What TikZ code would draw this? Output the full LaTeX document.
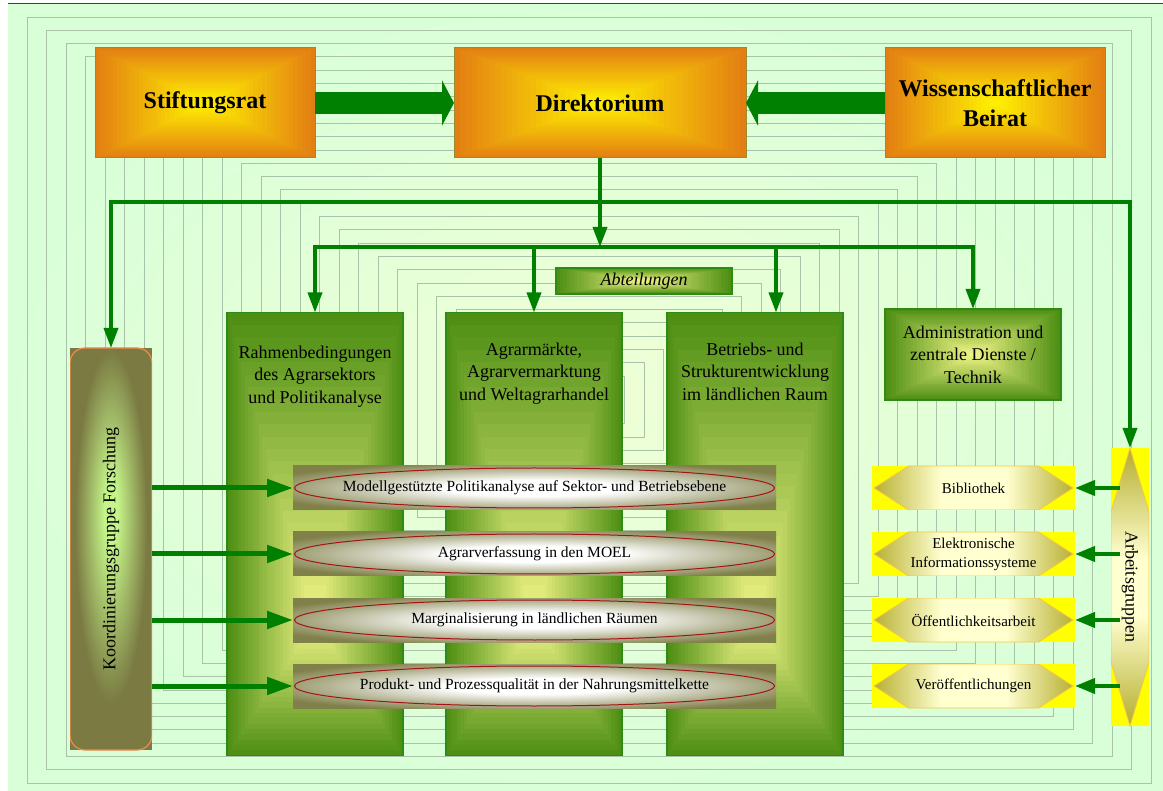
\documentclass[tikz,border=0pt]{standalone}
\usepackage{fontspec}
\setmainfont{Liberation Serif}
\usetikzlibrary{positioning,arrows.meta,calc}

\definecolor{arrowgreen}{HTML}{008000}
\definecolor{bgouter}{HTML}{D9FFD9}
\definecolor{bginner}{HTML}{F0FFD6}
\definecolor{bgline}{HTML}{A9C3A9}
\definecolor{boardouter}{HTML}{E37F12}
\definecolor{boardinner}{HTML}{FFF500}
\definecolor{boardedge}{HTML}{9A8A30}
\definecolor{colouter}{HTML}{4F8F14}
\definecolor{colinner}{HTML}{F5F78A}
\definecolor{coledge}{HTML}{2D8A14}
\definecolor{barolive}{HTML}{80804A}
\definecolor{barwhite}{HTML}{FFFFFF}
\definecolor{barred}{HTML}{A31515}
\definecolor{koordolive}{HTML}{7A7A42}
\definecolor{koordlight}{HTML}{C5F58A}
\definecolor{koordedge}{HTML}{F28A4A}
\definecolor{servyellow}{HTML}{FFFF00}
\definecolor{hexolive}{HTML}{B5AE2E}
\definecolor{hexlight}{HTML}{FFFFD0}
\definecolor{hexedge}{HTML}{F5C842}

\pgfdeclareradialshading{barshade}{\pgfpoint{0bp}{0bp}}{color(0bp)=(barwhite); color(9bp)=(barwhite); color(30bp)=(barolive); color(50bp)=(barolive)}
\pgfdeclareradialshading{koordshade}{\pgfpoint{0bp}{5bp}}{color(0bp)=(koordlight); color(4bp)=(koordlight); color(22bp)=(koordolive); color(50bp)=(koordolive)}
\pgfdeclarehorizontalshading{hexshade}{100bp}{color(0bp)=(hexolive); color(25bp)=(hexolive); color(42bp)=(hexlight); color(58bp)=(hexlight); color(75bp)=(hexolive); color(100bp)=(hexolive)}
\pgfdeclareverticalshading{diamondshade}{100bp}{color(0bp)=(hexolive); color(25bp)=(hexolive); color(45bp)=(hexlight); color(55bp)=(hexlight); color(75bp)=(hexolive); color(100bp)=(hexolive)}

\begin{document}
\begin{tikzpicture}[
    x=1pt, y=-1pt,
    pyramid/.style n args={3}{path picture={
        \coordinate (pSW) at (path picture bounding box.south west);
        \coordinate (pNE) at (path picture bounding box.north east);
        \coordinate (pC) at ($(path picture bounding box.south)!#3!(path picture bounding box.north)$);
        \foreach \k [evaluate=\k as \p using int(\k*4), evaluate=\k as \f using \k/25] in {0,...,24}
            \fill[#2!\p!#1] ($(pSW)!\f!(pC)$) rectangle ($(pNE)!\f!(pC)$);
    }},
    board/.style={draw=boardedge, line width=1pt, inner sep=0pt, outer sep=0pt, minimum width=220pt, minimum height=110pt, align=center,
        pyramid={boardouter}{boardinner}{.5}, font=\fontsize{24}{30}\selectfont\bfseries},
    column/.style={draw=coledge, line width=1.5pt, inner sep=0pt, outer sep=0pt, minimum width=176pt, minimum height=443pt,
        pyramid={colouter}{colinner}{.3}},
    coltext/.style={align=center, inner sep=0pt, font=\fontsize{18}{22.5}\selectfont},
    greenbox/.style={draw=coledge, line width=1.5pt, inner sep=0pt, outer sep=0pt, align=center,
        pyramid={colouter}{colinner}{.5}, font=\fontsize{18}{22.5}\selectfont},
    bar/.style={shade, shading=barshade, inner sep=0pt, outer sep=0pt, minimum width=483pt, minimum height=44pt,
        font=\fontsize{15.5}{18}\selectfont,
        path picture={\draw[barred, line width=1pt] (path picture bounding box.center) ellipse [x radius=240pt, y radius=20pt];}},
    service/.style={fill=servyellow, inner sep=0pt, outer sep=0pt, minimum width=203pt, minimum height=44pt, align=center,
        font=\fontsize{15}{19}\selectfont,
        path picture={\shade[shading=hexshade, draw=hexedge, line width=.8pt]
            ([xshift=2pt]path picture bounding box.west)
            -- ($(path picture bounding box.north west)!.18!(path picture bounding box.north east)$)
            -- ($(path picture bounding box.north west)!.82!(path picture bounding box.north east)$)
            -- ([xshift=-2pt]path picture bounding box.east)
            -- ($(path picture bounding box.south west)!.82!(path picture bounding box.south east)$)
            -- ($(path picture bounding box.south west)!.18!(path picture bounding box.south east)$) -- cycle;}},
    workgroup/.style={fill=servyellow, inner sep=0pt, outer sep=0pt, minimum width=38pt, minimum height=278pt,
        font=\fontsize{18}{22}\selectfont,
        path picture={\shade[shading=diamondshade, draw=hexedge, line width=.8pt]
            (path picture bounding box.north)
            -- ($(path picture bounding box.north east)!.23!(path picture bounding box.south east)$)
            -- ($(path picture bounding box.north east)!.77!(path picture bounding box.south east)$)
            -- (path picture bounding box.south)
            -- ($(path picture bounding box.north west)!.77!(path picture bounding box.south west)$)
            -- ($(path picture bounding box.north west)!.23!(path picture bounding box.south west)$) -- cycle;}},
    research/.style={fill=koordolive, inner sep=0pt, outer sep=0pt, minimum width=82pt, minimum height=402pt,
        font=\fontsize{18}{22}\selectfont,
        path picture={\shade[shading=koordshade, draw=koordedge, line width=1.2pt, rounded corners=15pt]
            (path picture bounding box.south west) rectangle (path picture bounding box.north east);}},
    arrow/.style={-{Triangle[length=20pt,width=14pt]}, line width=3.5pt, draw=arrowgreen},
    feed/.style={-{Triangle[length=26pt,width=17pt]}, line width=5pt, draw=arrowgreen},
    serve/.style={-{Triangle[length=20pt,width=15pt]}, line width=4pt, draw=arrowgreen},
    bigarrow/.style={-{Triangle[length=12pt,width=45pt]}, line width=22pt, draw=arrowgreen}
]
\useasboundingbox (0,0) rectangle (1163,791);

% background
\shade[inner color=bginner, outer color=bgouter] (8,4) rectangle (1163,791);
\foreach \i in {0,...,27}
    \draw[bgline, line width=.8pt] ({27+19.5*\i},{17+13.3*\i}) rectangle ({1151-19.5*\i},{783-13.3*\i});
\draw[black!75, line width=1pt] (8,4) -- (1163,4);

% top row
\node[board, minimum width=292pt] (direktorium) at (600,103) {Direktorium};
\node[board, left=139pt of direktorium] (stiftungsrat) {Stiftungsrat};
\node[board, right=139pt of direktorium] (beirat) {Wissenschaftlicher\\Beirat};

% departments
\node[greenbox, minimum width=176pt, minimum height=26pt, font=\fontsize{18}{22}\selectfont\itshape] (abteilungen) at (644,281) {Abteilungen};
\node[column] (rahmen) at (315,534) {};
\node[column, right=43pt of rahmen] (agrar) {};
\node[column, right=45pt of agrar] (betrieb) {};
\node[coltext, below=33pt of rahmen.north] (rahmentext) {Rahmenbedingungen\\des Agrarsektors\\und Politikanalyse};
\node[coltext, below=30pt of agrar.north] (agrartext) {Agrarmärkte,\\Agrarvermarktung\\und Weltagrarhandel};
\node[coltext, below=30pt of betrieb.north] (betriebtext) {Betriebs- und\\Strukturentwicklung\\im ländlichen Raum};
\node[greenbox, minimum width=176pt, minimum height=91pt] (admin) at (973,354.5) {Administration und\\zentrale Dienste /\\Technik};

% research groups
\node[research] (koord) at (111,549) {\rotatebox{90}{Koordinierungsgruppe Forschung}};
\node[bar] (modell) at (534.5,488) {Modellgestützte Politikanalyse auf Sektor- und Betriebsebene};
\node[bar, below=22pt of modell] (verfassung) {Agrarverfassung in den MOEL};
\node[bar, below=22pt of verfassung] (marginal) {Marginalisierung in ländlichen Räumen};
\node[bar, below=22pt of marginal] (qualitaet) {Produkt- und Prozessqualität in der Nahrungsmittelkette};

% working groups
\node[workgroup] (arbeit) at (1130,587) {\rotatebox{-90}{Arbeitsgruppen}};
\node[service] (bib) at (973.5,488) {Bibliothek};
\node[service, below=22pt of bib] (eis) {Elektronische\\Informationssysteme};
\node[service, below=22pt of eis] (oeff) {Öffentlichkeitsarbeit};
\node[service, below=22pt of oeff] (veroeff) {Veröffentlichungen};

% connectors
\coordinate (fork) at (600,202);
\coordinate (split) at (600,247);
\draw[bigarrow] (stiftungsrat) -- (direktorium);
\draw[bigarrow] (beirat) -- (direktorium);
\draw[arrow] (direktorium) -- (split);
\draw[arrow] (fork) -| (koord);
\draw[arrow] (fork) -| (arbeit);
\draw[arrow] (split) -| (rahmen);
\draw[arrow] (split) -| (agrar);
\draw[arrow] (split) -| ([xshift=21pt]betrieb.north);
\draw[arrow] (split) -| (admin);
\foreach \b in {modell,verfassung,marginal,qualitaet}
    \draw[feed] (\b.west -| koord.east) -- (\b.west);
\foreach \s in {bib,eis,oeff,veroeff}
    \draw[serve] ([xshift=9pt]\s.east -| arbeit.west) -- (\s.east);
\end{tikzpicture}
\end{document}
